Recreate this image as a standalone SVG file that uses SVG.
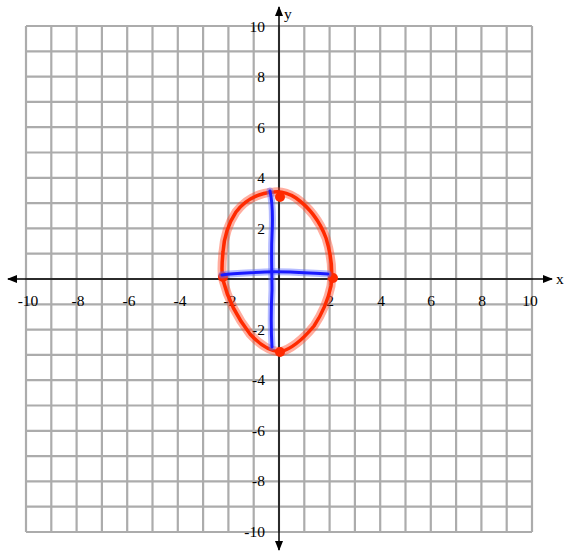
<svg xmlns="http://www.w3.org/2000/svg" width="565" height="552" viewBox="0 0 565 552">
<style>
.grid{stroke:#acacac;stroke-width:2.2;fill:none}
.axis{stroke:#000;stroke-width:1.5;fill:none}
.lbl{font-family:"Liberation Serif",serif;font-size:15.5px;fill:#000}
.red{stroke:#ff2a00;stroke-width:3.5;fill:none;stroke-linecap:round;stroke-linejoin:round}
.redh{stroke:#ff4a2a;stroke-opacity:0.45;stroke-width:9;fill:none;stroke-linecap:round;stroke-linejoin:round}
.blue{stroke:#1a1aff;stroke-width:3;fill:none;stroke-linecap:round;stroke-linejoin:round}
.blueh{stroke:#5a6aff;stroke-opacity:0.45;stroke-width:7;fill:none;stroke-linecap:round;stroke-linejoin:round}
</style>
<defs>
<marker id="arr" viewBox="0 0 10 8" refX="9" refY="4" markerWidth="10" markerHeight="8" markerUnits="userSpaceOnUse" orient="auto">
<path d="M0,0 L10,4 L0,8 Z" fill="#000"/>
</marker>
</defs>
<rect width="565" height="552" fill="#fff"/>
<g id="grid">
<path class="grid" d="M26,26V532M51.3,26V532M76.6,26V532M101.9,26V532M127.2,26V532M152.5,26V532M177.8,26V532M203.1,26V532M228.4,26V532M253.7,26V532M279,26V532M304.3,26V532M329.6,26V532M354.9,26V532M380.2,26V532M405.5,26V532M430.8,26V532M456.1,26V532M481.4,26V532M506.7,26V532M532,26V532"/>
<path class="grid" d="M26,26H532M26,51.3H532M26,76.6H532M26,101.9H532M26,127.2H532M26,152.5H532M26,177.8H532M26,203.1H532M26,228.4H532M26,253.7H532M26,279H532M26,304.3H532M26,329.6H532M26,354.9H532M26,380.2H532M26,405.5H532M26,430.8H532M26,456.1H532M26,481.4H532M26,506.7H532M26,532H532"/>
</g>
<g id="connectors">
<line class="axis" x1="279" y1="279" x2="8" y2="279" marker-end="url(#arr)"/>
<line class="axis" x1="279" y1="279" x2="552" y2="279" marker-end="url(#arr)"/>
<line class="axis" x1="279" y1="279" x2="279" y2="7" marker-end="url(#arr)"/>
<line class="axis" x1="279" y1="279" x2="279" y2="550" marker-end="url(#arr)"/>
</g>
<g id="axis-labels" class="lbl">
<text x="284" y="19">y</text>
<text x="556" y="284">x</text>
<g text-anchor="middle">
<text x="28" y="306">-10</text>
<text x="78" y="306">-8</text>
<text x="129" y="306">-6</text>
<text x="180" y="306">-4</text>
<text x="230" y="306">-2</text>
<text x="330" y="306">2</text>
<text x="381" y="306">4</text>
<text x="431" y="306">6</text>
<text x="482" y="306">8</text>
<text x="530" y="306">10</text>
</g>
<g text-anchor="end">
<text x="265" y="32">10</text>
<text x="265" y="82">8</text>
<text x="265" y="133">6</text>
<text x="265" y="183">4</text>
<text x="265" y="234">2</text>
<text x="265" y="335">-2</text>
<text x="265" y="385">-4</text>
<text x="265" y="436">-6</text>
<text x="265" y="486">-8</text>
<text x="265" y="537">-10</text>
</g>
</g>
<g id="ellipse">
<path class="redh" d="M274,192 C258,193 245,200 236,212 C228,224 224,238 223,252 C222,262 221,272 223,280 C227,296 236,316 250,334 C260,345 270,351 280,352 C292,349 304,338 314,326 C322,314 328,300 331,286 C333,270 331,254 326,238 C320,222 310,208 296,198 C288,193 281,191 274,192 Z"/>
<path class="red" d="M274,192 C258,193 245,200 236,212 C228,224 224,238 223,252 C222,262 221,272 223,280 C227,296 236,316 250,334 C260,345 270,351 280,352 C292,349 304,338 314,326 C322,314 328,300 331,286 C333,270 331,254 326,238 C320,222 310,208 296,198 C288,193 281,191 274,192 Z"/>
<circle cx="280" cy="197" r="5" fill="#ff2a00"/>
<circle cx="223" cy="277" r="5" fill="#ff2a00"/>
<circle cx="333" cy="278" r="5" fill="#ff2a00"/>
<circle cx="280" cy="352" r="5" fill="#ff2a00"/>
</g>
<g id="axes-drawn">
<path class="blueh" d="M270,191 C272,200 273,215 272,235 C271,255 272,270 272,290 C271,310 271,330 272,347"/>
<path class="blueh" d="M222,275 C235,273 250,273 265,272 C285,271 305,273 328,274"/>
<path class="blue" d="M270,191 C272,200 273,215 272,235 C271,255 272,270 272,290 C271,310 271,330 272,347"/>
<path class="blue" d="M222,275 C235,273 250,273 265,272 C285,271 305,273 328,274"/>
</g>
</svg>
